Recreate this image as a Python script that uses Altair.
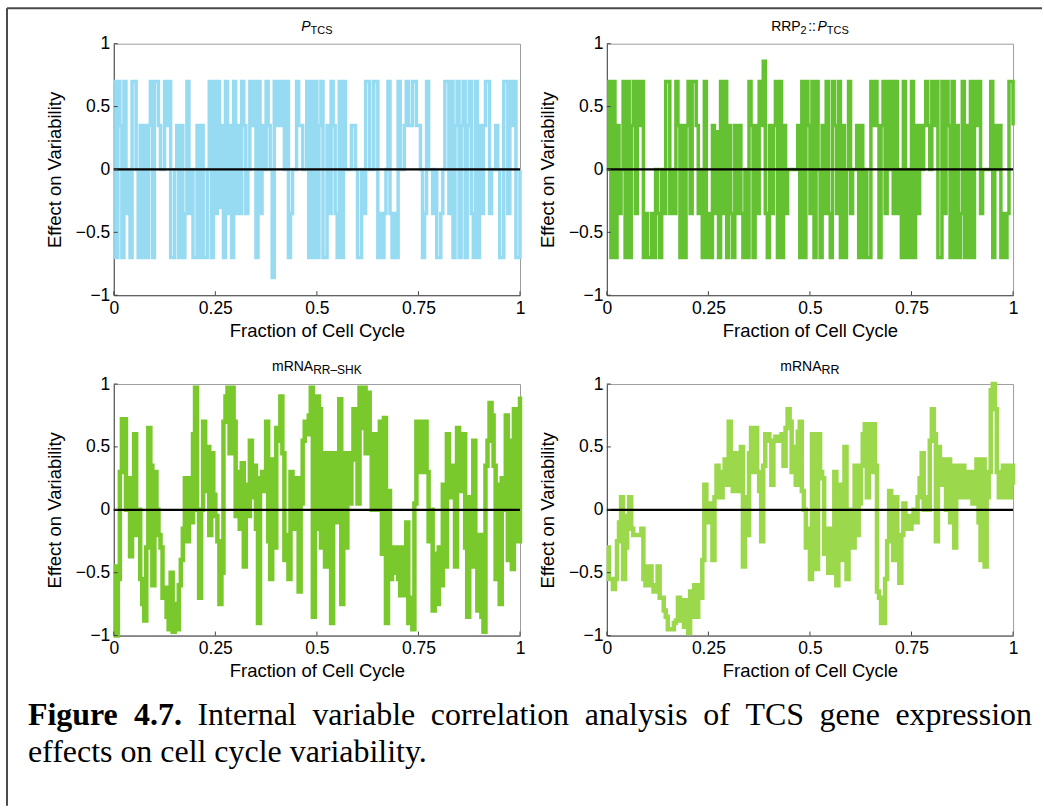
import altair as alt
import pandas as pd

# ---------------- data ----------------
N_STEPS = 200  # samples at t = i / N_STEPS, drawn as a step line

p_tcs = [
    0.7, -0.7, 0.7, 0.35, -0.7, 0.7, -0.35, 0, -0.7, 0.7,
    0.7, 0, -0.7, 0.35, -0.7, 0.35, -0.7, 0.35, 0.7, -0.7,
    0.7, 0.7, 0.35, 0, 0, 0.7, 0.35, 0.7, -0.7, -0.7,
    0, 0.35, -0.7, 0.35, -0.7, -0.35, 0.7, -0.35, 0, -0.7,
    -0.7, 0.35, -0.7, 0.35, -0.7, -0.7, 0, 0.7, -0.7, 0.7,
    -0.35, 0.7, -0.3, 0.35, -0.7, 0.7, -0.35, 0.35, -0.7, 0.7,
    -0.35, 0.35, -0.35, 0.7, 0.35, -0.35, 0, 0.7, 0.35, 0.7,
    -0.7, 0.7, -0.35, 0.35, 0, 0.7, 0.35, 0, -0.86, 0.7,
    0.35, 0.7, 0.35, 0.7, 0, 0.7, -0.7, -0.35, 0, 0,
    0.7, 0.35, 0.35, 0, 0, 0.7, -0.7, 0.7, -0.7, 0.7,
    -0.7, 0.35, 0.7, -0.7, -0.7, 0.35, -0.35, 0.7, 0.35, -0.35,
    -0.7, 0.7, -0.7, 0.7, 0, 0, 0, 0.35, 0.35, 0,
    -0.7, -0.7, 0, -0.35, 0.7, 0.7, 0, 0, 0.7, 0.7,
    -0.7, -0.35, -0.7, -0.35, 0, 0.7, -0.35, -0.7, -0.35, -0.7,
    0.7, 0, 0, 0.35, 0.7, 0.35, 0.35, 0.7, 0.7, 0.35,
    0.35, 0, -0.7, -0.35, 0.7, 0, 0, -0.35, 0, -0.7,
    -0.7, -0.35, 0, 0.7, 0.7, -0.35, 0.7, -0.7, 0.35, 0.7,
    -0.7, 0.35, 0.7, -0.7, 0.35, 0.7, -0.35, -0.7, 0.7, -0.7,
    0.35, -0.35, 0.35, 0.7, 0.7, -0.35, 0, 0, 0.35, 0,
    -0.7, -0.7, 0.7, 0.7, -0.35, 0.7, 0.35, 0.7, -0.7, -0.7,
    0,
]

rrp2_p_tcs = [
    0, 0.7, -0.7, 0.7, -0.7, 0.35, -0.35, 0, 0.7, -0.7,
    0.7, -0.7, 0.35, 0.7, -0.35, 0.7, 0.35, 0.7, -0.7, -0.35,
    -0.7, -0.7, -0.35, -0.7, 0, -0.35, -0.7, 0, -0.35, 0.7,
    0.7, -0.35, 0, -0.35, 0.7, 0.35, -0.7, 0.35, -0.7, 0.35,
    0.7, -0.35, 0.7, 0.7, 0.35, -0.35, 0, -0.7, 0.7, -0.7,
    -0.35, -0.7, 0.35, -0.35, 0.3, -0.7, 0.7, -0.35, 0.7, -0.7,
    0.35, -0.35, -0.7, 0.35, -0.35, 0.35, -0.35, -0.7, 0, -0.7,
    0.7, 0.35, -0.7, 0.35, -0.35, 0.7, 0.35, 0.86, -0.35, -0.7,
    0.35, -0.35, 0.35, 0.7, -0.7, 0.7, -0.7, 0.35, -0.35, 0,
    0, 0, 0, 0, 0.35, -0.7, 0.7, -0.7, 0.7, 0.35,
    -0.35, 0.7, -0.7, 0.7, 0, -0.7, 0.35, -0.35, 0.7, -0.35,
    -0.7, 0.7, 0.35, -0.35, 0.7, -0.7, 0.35, -0.7, 0, 0.7,
    -0.35, 0, 0, 0.35, -0.7, 0.35, -0.7, 0, -0.7, -0.7,
    0.7, 0.35, 0.7, 0.35, -0.7, 0.35, 0.7, -0.35, 0.7, 0,
    0.7, -0.35, 0.7, -0.35, 0, -0.7, 0.7, -0.7, 0, -0.7,
    0.7, -0.7, 0.35, -0.35, 0.35, 0, 0.35, 0.7, 0.35, 0,
    0.7, 0.35, 0.7, -0.7, -0.7, 0.7, -0.35, 0.7, 0.35, -0.7,
    0.7, -0.7, 0.35, -0.7, -0.35, 0.7, -0.7, 0.35, -0.7, 0.7,
    -0.7, 0.7, 0.35, 0.7, -0.35, 0, 0, 0, 0, 0.7,
    -0.7, 0.35, 0, 0.35, -0.7, -0.35, -0.7, -0.35, 0.7, 0.7,
    0.35,
]

mrna_rr_shk = [
    -0.45, -1.0, -0.55, 0.3, 0.72, 0.72, 0.0, 0.25, -0.37, 0.25,
    0.6, -0.2, 0.0, -0.55, -0.75, -0.88, -0.3, 0.65, 0.35, -0.6,
    0.3, 0.0, -0.2, -0.3, -0.7, -0.62, -0.85, -0.95, -0.5, -0.97,
    -0.75, -0.95, -0.6, -0.4, -0.15, 0.25, -0.25, 0.25, -0.1, 0.6,
    0.97, 0.0, -0.7, 0.0, 0.7, 0.15, 0.5, -0.2, 0.45, 0.12,
    -0.05, -0.25, -0.75, -0.5, 0.7, 0.9, 0.97, 0.45, 0.97, 0.7,
    -0.05, 0.3, -0.15, 0.37, -0.45, 0.2, -0.05, 0.55, 0.1, 0.35,
    -0.15, -0.9, 0.25, 0.3, 0.15, 0.7, -0.25, -0.55, 0.4, -0.3,
    0.65, 0.55, 0.9, 0.45, -0.4, -0.2, -0.55, 0.3, -0.15, 0.1,
    0.25, -0.65, 0.05, 0.55, 0.7, 0.6, 0.75, 0.97, -0.85, -0.15,
    0.9, 0.8, -0.3, 0.45, -0.45, 0.45, 0.45, -0.9, 0.45, -0.1,
    0.3, 0.88, -0.75, 0.45, -0.3, 0.45, 0.05, 0.4, 0.8, 0.6,
    0.05, 0.97, 0.65, 0.97, 0.45, 0.93, 0.6, 0.0, 0.6, 0.0,
    0.6, 0.7, -0.35, 0.73, -0.9, 0.15, -0.55, -0.3, -0.5, -0.3,
    -0.55, -0.68, -0.3, -0.68, -0.1, -0.9, -0.7, -0.95, 0.05, 0.7,
    0.3, 0.7, 0.3, 0.7, 0.3, -0.25, 0.0, -0.8, -0.35, -0.75,
    -0.3, -0.6, 0.2, -0.45, 0.6, 0.35, 0.1, 0.35, -0.45, 0.65,
    0.15, 0.5, 0.6, -0.3, -0.85, 0.1, -0.45, 0.55, -0.3, -0.8,
    -0.2, -0.85, -0.97, 0.35, 0.55, 0.85, 0.75, 0.35, -0.55, 0.2,
    -0.75, 0.25, 0.0, 0.75, -0.4, 0.55, -0.47, 0.8, 0.3, -0.25,
    0.9,
]

mrna_rr = [
    -0.3, -0.55, -0.55, -0.63, -0.55, -0.25, -0.1, 0.1, -0.55, -0.3,
    -0.05, 0.1, -0.15, -0.2, -0.2, -0.2, -0.2, -0.15, -0.55, -0.6,
    -0.45, -0.45, -0.6, -0.65, -0.65, -0.45, -0.7, -0.7, -0.8, -0.85,
    -0.95, -0.95, -0.95, -0.9, -0.88, -0.7, -0.88, -0.72, -0.93, -0.72,
    -0.98, -0.65, -0.85, -0.6, -0.85, -0.6, -0.7, -0.4, 0.2, 0.0,
    -0.1, 0.05, -0.4, 0.1, 0.35, 0.1, 0.1, 0.3, 0.4, 0.2,
    0.7, 0.3, 0.15, 0.45, 0.3, 0.15, 0.5, -0.45, 0.1, -0.2,
    0.45, 0.65, 0.3, 0.65, 0.3, 0.15, -0.25, 0.35, 0.6, 0.6,
    0.55, 0.2, 0.55, 0.58, 0.55, 0.58, 0.6, 0.35, 0.65, 0.8,
    0.7, 0.3, 0.5, 0.2, 0.62, 0.7, 0.15, 0.0, -0.3, -0.15,
    -0.55, 0.6, 0.1, -0.47, 0.6, 0.3, 0.25, -0.35, -0.15, -0.5,
    -0.15, -0.5, 0.3, -0.6, 0.2, -0.4, 0.05, 0.5, -0.55, -0.3,
    0.0, -0.3, 0.35, -0.2, 0.05, 0.35, 0.6, 0.68, 0.1, 0.68,
    0.3, 0.68, 0.35, -0.65, -0.7, -0.9, -0.9, -0.55, -0.25, 0.15,
    -0.1, -0.4, 0.1, -0.3, -0.58, -0.2, 0.05, -0.15, -0.05, -0.15,
    -0.05, 0.0, -0.1, 0.1, 0.25, 0.45, 0.0, 0.1, 0.0, 0.55,
    0.8, 0.6, -0.25, 0.5, 0.2, 0.4, 0.4, 0.0, 0.4, -0.1,
    0.35, -0.3, 0.15, 0.35, 0.1, 0.35, 0.2, 0.1, 0.3, 0.2,
    0.05, 0.3, 0.4, -0.1, -0.4, 0.4, -0.45, 0.1, 0.3, 0.95,
    1.0, 0.8, 0.3, 0.1, 0.15, 0.35, 0.1, 0.35, 0.1, 0.35,
    0.2,
]

x_tick_values = [0, 0.25, 0.5, 0.75, 1]
y_tick_values = [-1, -0.5, 0, 0.5, 1]

x_title = "Fraction of Cell Cycle"
y_title = "Effect on Variability"

caption_bold = ["Figure", "4.7."]
caption_line1 = ["Internal", "variable", "correlation", "analysis", "of", "TCS",
                 "gene", "expression"]
caption_line2 = "effects on cell cycle variability."

# ---------------- layout / style ----------------
W, H = 407, 252
PANEL_LEFT, PANEL_TOP = 113, 42.5
PANEL3_TOP = 383.5

SANS = "Liberation Sans"
SERIF = "Liberation Serif"

ARIAL = {'m': 833, 'R': 722, 'N': 722, 'A': 667, 'P': 667, 'T': 611, 'C': 722,
         'S': 667, 'H': 722, 'K': 667, '-': 333, ':': 278, '2': 556, '\u2013': 556}
TIMES_R = {'a': 444, 'b': 500, 'c': 444, 'd': 500, 'e': 444, 'f': 333, 'g': 500,
           'h': 500, 'i': 278, 'j': 278, 'k': 500, 'l': 278, 'm': 778, 'n': 500,
           'o': 500, 'p': 500, 'q': 500, 'r': 333, 's': 389, 't': 278, 'u': 500,
           'v': 500, 'w': 722, 'x': 500, 'y': 500, 'z': 444, 'I': 333, 'T': 611,
           'C': 667, 'S': 556, '.': 250, ' ': 250}
TIMES_B = {'F': 611, 'i': 278, 'g': 500, 'u': 556, 'r': 444, 'e': 444, '4': 500,
           '.': 250, '7': 500}


def text_width(s, size, table):
    return sum(table.get(c, 500) for c in s) * size / 1000.0


xs = alt.Scale(domain=[0, 1], nice=False, zero=False)
ys = alt.Scale(domain=[-1, 1], nice=False, zero=False)
x_axis = alt.Axis(values=x_tick_values, format=".2~f", title=x_title, ticks=False,
                  grid=False, labelFlush=False, labelOverlap=False,
                  labelPadding=4, titlePadding=5)
y_axis = alt.Axis(values=y_tick_values, format=".2~f", title=y_title, ticks=False,
                  grid=False, labelFlush=False, labelOverlap=False,
                  labelPadding=4, titlePadding=11)


def X(field):
    return alt.X(f"{field}:Q", scale=xs, axis=x_axis)


def Y(field):
    return alt.Y(f"{field}:Q", scale=ys, axis=y_axis)


def text_piece(s, px, py, size, font=SANS, italic=False, bold=False, align="left"):
    return alt.Chart(pd.DataFrame({"s": [s]})).mark_text(
        align=align, baseline="alphabetic", font=font, fontSize=size,
        fontStyle="italic" if italic else "normal",
        fontWeight="bold" if bold else "normal", color="black"
    ).encode(x=alt.value(px), y=alt.value(py), text="s:N")


def title_layers(parts):
    # parts: (text, size, italic, subscript, extra space on each side)
    total = sum(text_width(t, sz, ARIAL) + 2 * pad for t, sz, _, _, pad in parts)
    x = W / 2 - total / 2
    out = []
    for t, sz, it, sub, pad in parts:
        x += pad
        out.append(text_piece(t, x, -13 + (3 if sub else 0), sz, italic=it))
        x += text_width(t, sz, ARIAL) + pad
    return out


def panel(values, color, parts, stroke, extra=()):
    df = pd.DataFrame({"t": [i / N_STEPS for i in range(len(values))], "v": values})
    line = alt.Chart(df).mark_line(
        interpolate="step-after", strokeWidth=stroke, color=color
    ).encode(x=X("t"), y=Y("v"))
    zero = alt.Chart(pd.DataFrame({"v": [0]})).mark_rule(
        color="black", strokeWidth=2.2
    ).encode(y=Y("v"))
    xt = alt.Chart(pd.DataFrame({"t": x_tick_values})).mark_rule(
        color="#444444", strokeWidth=1
    ).encode(x=X("t"), y=alt.value(H), y2=alt.value(H - 4))
    yt = alt.Chart(pd.DataFrame({"v": y_tick_values})).mark_rule(
        color="#444444", strokeWidth=1
    ).encode(y=Y("v"), x=alt.value(0), x2=alt.value(4))
    layers = [line, zero, xt, yt] + title_layers(parts) + list(extra)
    return alt.layer(*layers).properties(width=W, height=H)


# outer frame of the figure (left and top edges), drawn relative to panel 1
bx, by = 6 - PANEL_LEFT, 7 - PANEL_TOP
border = [
    alt.Chart(pd.DataFrame({"a": [0]})).mark_rule(color="#4a4a4a", strokeWidth=2).encode(
        x=alt.value(bx), y=alt.value(by), y2=alt.value(806 - PANEL_TOP)),
    alt.Chart(pd.DataFrame({"a": [0]})).mark_rule(color="#4a4a4a", strokeWidth=2).encode(
        x=alt.value(bx), x2=alt.value(1043 - PANEL_LEFT), y=alt.value(by)),
]

# caption, justified first line, drawn relative to panel 3
CAP_SIZE = 32
cap_left, cap_right = 27, 1033
words = [(w, True) for w in caption_bold] + [(w, False) for w in caption_line1]
widths = [text_width(w, CAP_SIZE, TIMES_B if b else TIMES_R) for w, b in words]
gap = (cap_right - cap_left - sum(widths)) / (len(words) - 1)
caption = []
cx = cap_left
y1 = 725 - PANEL3_TOP
y2 = 762 - PANEL3_TOP
for (w, b), wd in zip(words, widths):
    caption.append(text_piece(w, cx - PANEL_LEFT, y1, CAP_SIZE, font=SERIF, bold=b))
    cx += wd + gap
caption.append(text_piece(caption_line2, cap_left - PANEL_LEFT, y2, CAP_SIZE, font=SERIF))

SUB = 11
MAIN = 14
p1 = panel(p_tcs, "#97dbf3",
           [("P", MAIN, True, False, 0), ("TCS", SUB, False, True, 0)], 3.5, border)
p2 = panel(rrp2_p_tcs, "#63c132",
           [("RRP", MAIN, False, False, 0), ("2", SUB, False, True, 0),
            ("::", MAIN, False, False, 1.5), ("P", MAIN, True, False, 0),
            ("TCS", SUB, False, True, 0)], 3.5)
p3 = panel(mrna_rr_shk, "#79c92c",
           [("mRNA", MAIN, False, False, 0), ("RR\u2013SHK", 12, False, True, 0)],
           4.5, caption)
p4 = panel(mrna_rr, "#9bd84c",
           [("mRNA", MAIN, False, False, 0), ("RR", 12.5, False, True, 0)], 4.5)

chart = alt.concat(
    p1, p2, p3, p4, columns=2, bounds="flush",
    spacing=alt.RowColnumber(row=PANEL3_TOP - PANEL_TOP - H, column=607 - PANEL_LEFT - W),
).properties(
    padding={"left": 5, "top": 6, "right": 0, "bottom": 0},
    background="white",
).configure_view(
    stroke="#9d9d9d", strokeWidth=1
).configure_axis(
    labelFont=SANS, labelFontSize=17.5, labelColor="black",
    titleFont=SANS, titleFontSize=18.5, titleFontWeight="normal", titleColor="black",
    domainColor="#4d4d4d", domainWidth=1,
)

chart.save("out.html", embed_options={"renderer": "svg", "actions": False})
